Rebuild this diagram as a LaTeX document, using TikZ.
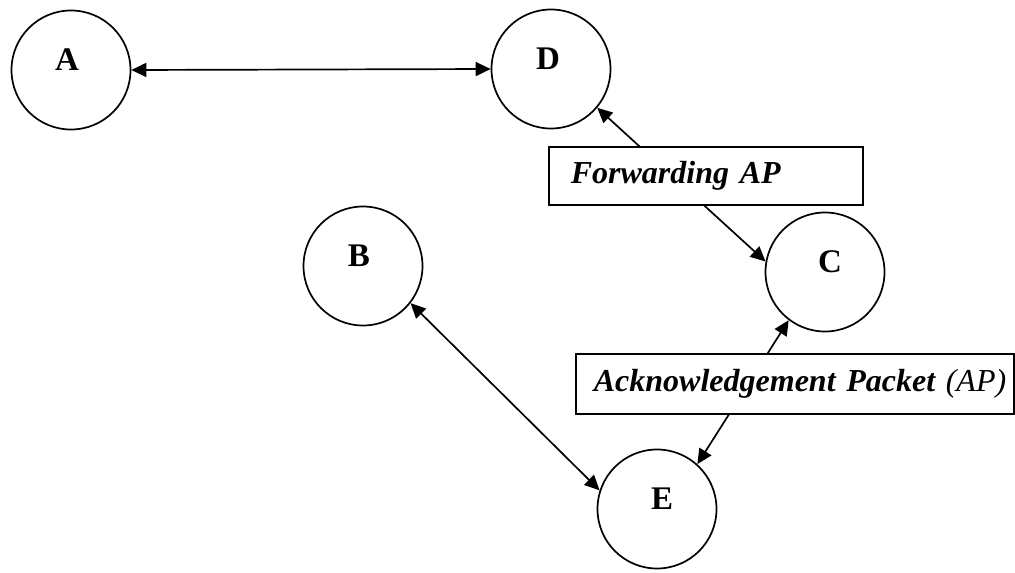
\documentclass[tikz,border=0pt]{standalone}
\usepackage{fontspec}
\setmainfont{Liberation Serif}
\usetikzlibrary{arrows.meta}
\begin{document}
\begin{tikzpicture}[x=1pt,y=-1pt,
  station/.style={circle, draw, line width=1.7pt, minimum size=119pt, inner sep=0pt},
  tag/.style={anchor=base, inner sep=0pt, font=\fontsize{33}{39}\selectfont\bfseries},
  msgbox/.style={draw, fill=white, line width=1.7pt, anchor=west, align=left,
    font=\fontsize{32}{38}\selectfont\bfseries\itshape},
  link/.style={line width=1.7pt,
    {Triangle[length=15pt,width=14pt]}-{Triangle[length=15pt,width=14pt]}}
]
\useasboundingbox (0,0) rectangle (1015,573);

% stations
\node[station] (A) at (71,70) {};
\node[station] (D) at (551,69) {};
\node[station] (B) at (363,266) {};
\node[station] (C) at (825,272) {};
\node[station] (E) at (657,509) {};

% station names
\node[tag] (Atag) at ([xshift=-4pt]A.center) {A};
\node[tag] (Dtag) at ([xshift=-3pt]D.center) {D};
\node[tag] (Btag) at ([xshift=-4pt]B.center) {B};
\node[tag] (Ctag) at ([xshift=5pt]C.center) {C};
\node[tag] (Etag) at ([xshift=5pt]E.center) {E};

% links
\draw[link] (A.east) -- (D.west);
\draw[link] (D.-40) -- (C.170);
\draw[link] (C.-127) -- (E.48);
\draw[link] (B.-38) -- (E.162);

% packet captions laid over the links
\node[msgbox, minimum height=58pt, inner xsep=22pt, text width=270pt] (fwd) at (548,176)
  {Forwarding AP};
\node[msgbox, minimum height=60pt, inner xsep=18pt, text width=402pt] (ack) at (575,384)
  {\mbox{Acknowledgement Packet {\mdseries(AP)}}};
\end{tikzpicture}
\end{document}
